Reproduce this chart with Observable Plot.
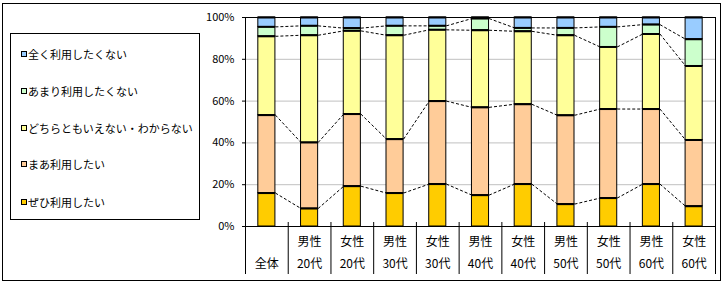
<!DOCTYPE html>
<html>
<head>
<meta charset="utf-8">
<script src="https://cdn.jsdelivr.net/npm/d3@7"></script>
<script src="https://cdn.jsdelivr.net/npm/@observablehq/plot@0.6"></script>
<style>
  html, body { margin: 0; padding: 0; background: #fff; }
  #wrap { position: relative; width: 727px; height: 284px; font-family: "Noto Sans CJK JP", sans-serif; }
  #outer { position: absolute; left: 2px; top: 3px; width: 719px; height: 278px; box-sizing: border-box; border: 1px solid #000; pointer-events: none; }
  #legend { position: absolute; left: 10px; top: 33px; width: 190px; height: 187px; box-sizing: border-box; border: 1px solid #000; background: #fff; }
  .item { position: absolute; left: 0; height: 14px; font-size: 11px; line-height: 14px; color: #000; white-space: nowrap; }
  .sw { position: absolute; left: 10px; top: 4px; width: 6px; height: 6px; box-sizing: border-box; border: 1px solid #000; }
  .lt { position: absolute; left: 17px; top: 0; }
  #chart { position: absolute; left: 0; top: 0; }
</style>
</head>
<body>
<div id="wrap">
  <div id="chart"></div>
  <div id="legend"></div>
  <div id="outer"></div>
</div>
<script>
const genderLabels = ["", "男性", "女性", "男性", "女性", "男性", "女性", "男性", "女性", "男性", "女性"];
const ageLabels = ["全体", "20代", "20代", "30代", "30代", "40代", "40代", "50代", "50代", "60代", "60代"];
const seriesNames = ["ぜひ利用したい", "まあ利用したい", "どちらともいえない・わからない", "あまり利用したくない", "全く利用したくない"];
const seriesColors = ["#FFCC00", "#FFCC99", "#FFFF99", "#CCFFCC", "#99CCFF"];

// percentages per category (全体, 男性20代, 女性20代, 男性30代, 女性30代, 男性40代, 女性40代, 男性50代, 女性50代, 男性60代, 女性60代)
const zehi    = [16.0,  8.6, 19.3, 16.0, 20.3, 15.0, 20.3, 10.7, 13.6, 20.3,  9.7];
const maa     = [37.3, 31.6, 34.5, 25.8, 39.7, 42.0, 38.2, 42.5, 42.6, 35.9, 31.7];
const dochira = [37.7, 51.3, 39.8, 49.7, 34.1, 36.9, 34.9, 38.3, 29.7, 35.9, 35.4];
const amari   = [ 4.5,  4.5,  1.3,  4.5,  1.9,  5.6,  1.6,  3.5,  9.6,  4.5, 12.8];
const mattaku = [ 4.5,  4.0,  5.1,  4.0,  4.0,  0.5,  5.0,  5.0,  4.5,  3.4, 10.4];
const yTicks = [0, 20, 40, 60, 80, 100];

const series = [zehi, maa, dochira, amari, mattaku];
const n = ageLabels.length;
const idx = d3.range(n);
const half = 0.2;

// stacked segments
const segs = [];
const cums = idx.map(() => []);
idx.forEach(i => {
  let c = 0;
  series.forEach((arr, s) => {
    segs.push({i, s, y1: c, y2: c + arr[i]});
    c += arr[i];
    cums[i].push(c);
  });
});
// connector lines between neighbouring bars at the first four boundaries
const links = [];
for (let i = 0; i < n - 1; i++) {
  for (let k = 0; k < 4; k++) links.push({i, a: cums[i][k], b: cums[i + 1][k]});
}
const separators = d3.range(n + 1).map(k => k - 0.5);

const fontFamily = '"Noto Sans CJK JP", sans-serif';

const chart = Plot.plot({
  width: 727,
  height: 284,
  marginLeft: 245,
  marginRight: 12,
  marginTop: 17,
  marginBottom: 58,
  style: {fontFamily, fontSize: "11px", color: "#000", background: "transparent", overflow: "visible"},
  x: {domain: [-0.5, n - 0.5], axis: null},
  y: {domain: [0, 100], axis: null},
  marks: [
    Plot.ruleY([20, 40, 60, 80], {stroke: "#c0c0c0"}),
    Plot.rect(segs, {
      x1: d => d.i - half, x2: d => d.i + half,
      y1: "y1", y2: "y2",
      fill: d => seriesColors[d.s],
      stroke: "#000", strokeWidth: 1
    }),
    Plot.ruleY(segs, {x1: d => d.i - half, x2: d => d.i + half, y: "y2", stroke: "#000", strokeWidth: 2}),
    Plot.link(links, {
      x1: d => d.i + half, y1: "a", x2: d => d.i + 1 - half, y2: "b",
      stroke: "#000", strokeWidth: 1, strokeDasharray: "3,2"
    }),
    Plot.ruleY([0, 100], {stroke: "#000"}),
    Plot.ruleX([-0.5, n - 0.5], {stroke: "#000"}),
    Plot.axisY({ticks: yTicks, tickFormat: d => d + "%", tickSize: 3, tickPadding: 8, fontSize: 11, stroke: "#000"}),
    Plot.axisX({ticks: separators, tickSize: 48, tickFormat: () => "", stroke: "#000"}),
    Plot.axisX({ticks: separators.slice(1, -1), anchor: "bottom", tickSize: -4, tickFormat: () => "", stroke: "#000"}),
    Plot.text(idx, {x: d => d, text: d => genderLabels[d], frameAnchor: "bottom", dy: 19, fontSize: 12, fill: "#000"}),
    Plot.text(idx, {x: d => d, text: d => ageLabels[d], frameAnchor: "bottom", dy: 41, fontSize: 12, fill: "#000"})
  ]
});
document.getElementById("chart").appendChild(chart);

// legend (top item = last series)
const legend = document.getElementById("legend");
const itemCentres = [20, 57, 93.5, 130, 167.5];
seriesNames.slice().reverse().forEach((name, k) => {
  const s = seriesNames.length - 1 - k;
  const it = document.createElement("div");
  it.className = "item";
  it.style.top = (itemCentres[k] - 7) + "px";
  const sw = document.createElement("div");
  sw.className = "sw";
  sw.style.background = seriesColors[s];
  const t = document.createElement("div");
  t.className = "lt";
  t.textContent = name;
  it.appendChild(sw);
  it.appendChild(t);
  legend.appendChild(it);
});
</script>
</body>
</html>
